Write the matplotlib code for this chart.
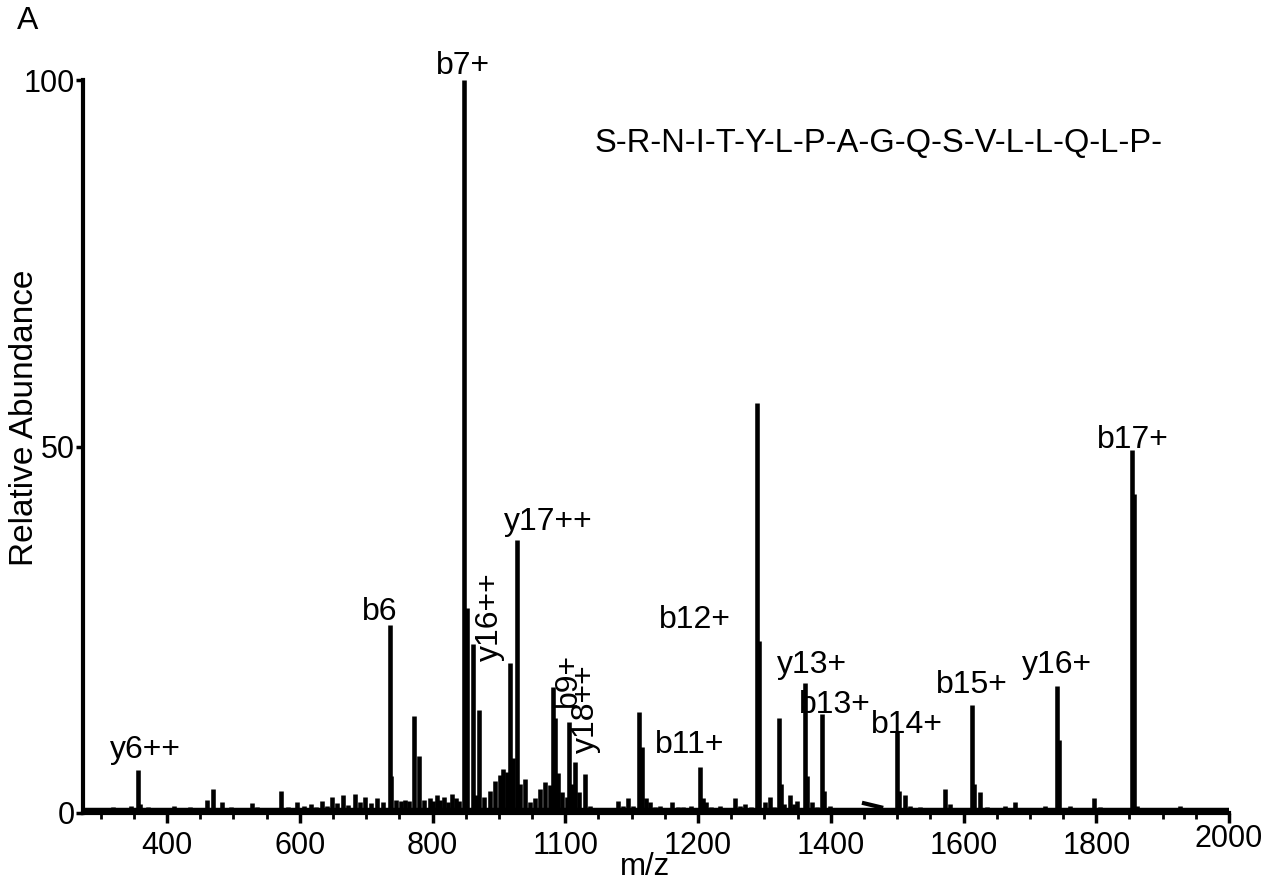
import matplotlib
matplotlib.use("Agg")
import matplotlib.pyplot as plt
from matplotlib.transforms import ScaledTranslation

plt.rcParams['font.family'] = ['Liberation Sans', 'DejaVu Sans']

# ---------------- data ----------------
peak_mz = [300, 318, 330, 345, 356.3, 360, 372, 385, 400, 410, 422, 435, 448, 460,
           469.3, 482.9, 497, 510, 528.1, 535, 549.2, 560, 571.8, 583, 595.9, 607, 617,
           625, 633.5, 641, 648.6, 656, 665.2, 673, 683.3, 690, 698.3, 707, 716.4, 725,
           735.4, 737.5, 745, 752, 758.6, 765, 772.2, 779.7, 787, 796.3, 801, 806.8, 812,
           817.4, 823, 829.4, 835.4, 840, 848, 852, 861.1, 866, 870.1, 877.6, 886.7,
           894.2, 901.7, 906.3, 912.3, 916.8, 921.3, 927.3, 931.9, 939.4, 946.9, 955,
           962, 969.5, 977.1, 981.6, 984.6, 989.1, 995.1, 1002.7, 1005.7, 1010.2,
           1014.7, 1020.8, 1029.8, 1037.3, 1052.4, 1065, 1079.5, 1087, 1094.6, 1102,
           1111.2, 1115.7, 1121.7, 1127.7, 1135, 1142.8, 1150, 1160.9, 1170, 1177.5,
           1190, 1203.1, 1207, 1212.1, 1220, 1233.2, 1245, 1255.8, 1263, 1270.9, 1280,
           1288.7, 1291.9, 1301, 1308.5, 1315, 1322.1, 1325, 1330, 1338.7, 1344,
           1349.2, 1361.3, 1364, 1371.8, 1380, 1386.9, 1390, 1399, 1410, 1425, 1440,
           1460, 1490, 1499.9, 1503, 1511.9, 1519.5, 1534.5, 1550, 1565, 1572.2,
           1579.7, 1590, 1600, 1612.9, 1616, 1624.9, 1635, 1650, 1662.6, 1677.7, 1690,
           1705, 1722.9, 1730, 1741, 1744, 1760.6, 1775, 1783.1, 1796.7, 1805, 1820,
           1835, 1845, 1853.9, 1856.9, 1862, 1875, 1890, 1910, 1926.3, 1945, 1970, 1990]
peak_int = [0.6, 0.8, 0.5, 1.0, 5.9, 1.2, 0.8, 0.7, 0.6, 0.9, 0.7, 0.8, 0.6, 1.8,
            3.3, 1.5, 0.8, 0.7, 1.4, 0.8, 0.7, 0.6, 3.0, 0.8, 1.5, 0.9, 1.2,
            0.8, 1.7, 0.9, 2.2, 1.3, 2.4, 1.1, 2.6, 1.5, 2.2, 1.4, 2.0, 1.5,
            25.6, 5.0, 1.8, 1.6, 1.8, 1.6, 13.2, 7.8, 1.8, 2.0, 1.6, 2.4, 1.8,
            2.2, 1.5, 2.6, 2.0, 1.6, 100, 28, 23, 2.5, 14, 2.2, 3.0,
            4.4, 5.2, 6.0, 5.6, 20.5, 7.5, 37.2, 4.0, 4.6, 1.5, 2.0,
            3.3, 4.2, 3.8, 17.2, 13, 5.5, 2.8, 2.2, 12.4, 4.0,
            7.0, 2.8, 5.3, 1.0, 0.6, 0.6, 1.6, 0.9, 2.0, 1.0,
            13.8, 9.0, 2.0, 1.5, 0.8, 1.0, 0.7, 1.5, 0.8, 0.8,
            1.0, 6.3, 2.0, 1.5, 0.8, 1.0, 0.7, 2.0, 1.0, 1.2, 0.8,
            56, 23.5, 1.5, 2.2, 0.8, 13, 4, 1.2, 2.5, 1.2,
            1.6, 17.7, 5, 1.5, 0.8, 13.5, 3, 1.0, 0.6, 0.5, 0.4,
            0.4, 0.6, 11, 3, 2.5, 1.0, 0.8, 0.5, 0.7, 3.3,
            1.2, 0.6, 0.5, 14.7, 4, 2.8, 0.8, 0.5, 0.9, 1.5, 0.5,
            0.4, 1.0, 0.6, 17.3, 10, 1.0, 0.5, 0.6, 2.0, 0.8, 0.5,
            0.5, 0.6, 49.5, 43.5, 1.0, 0.5, 0.4, 0.4, 0.9, 0.4, 0.4, 0.4]

noise_level = 0.5
artifact_mz = [1447, 1479]
artifact_int = [1.4, 0.7]

ion_labels = ["y6++", "b6", "b7+", "y17++", "y16++", "b9+", "y18++", "b11+",
              "b12+", "y13+", "b13+", "b14+", "b15+", "y16+", "b17+"]

sequence = "S-R-N-I-T-Y-L-P-A-G-Q-S-V-L-L-Q-L-P-"

x_ticks = [400, 600, 800, 1000, 1200, 1400, 1600, 1800, 2000]
x_ticklabels = ["400", "600", "800", "1100", "1200", "1400", "1600", "1800", "2000"]
y_ticks = [0, 50, 100]

# ---------------- layout ----------------
W, H = 1275, 886
fig = plt.figure(figsize=(W / 100, H / 100), dpi=100)
ax_l, ax_r, ax_b, ax_t = 83, 1229, 813, 80
ax = fig.add_axes([ax_l / W, 1 - ax_b / H, (ax_r - ax_l) / W, (ax_b - ax_t) / H])
XMIN, XMAX = 273.4, 2000
ax.set_xlim(XMIN, XMAX)
ax.set_ylim(0, 100)

ax.vlines(peak_mz, 0, peak_int, colors='black', linewidth=3.3, capstyle='butt')
ax.plot([XMIN, XMAX], [noise_level, noise_level], color='black', lw=2.5,
        solid_capstyle='butt')
ax.plot(artifact_mz, artifact_int, color='black', lw=3, solid_capstyle='butt')

for s in ['top', 'right']:
    ax.spines[s].set_visible(False)
for s in ['left', 'bottom']:
    ax.spines[s].set_linewidth(3.0)

ax.set_xticks(x_ticks)
ax.set_xticklabels(x_ticklabels)
ax.set_xticks(list(range(300, 2001, 50)), minor=True)
ax.set_yticks(y_ticks)
ax.tick_params(axis='x', which='major', length=7, width=2.5, labelsize=22, pad=6)
ax.tick_params(axis='x', which='minor', length=4, width=2.0)
ax.tick_params(axis='y', which='major', length=5, width=2.5, labelsize=22, pad=1)

# raise the last tick label slightly, as in the reference
lab = ax.get_xticklabels()[-1]
lab.set_transform(lab.get_transform() + ScaledTranslation(0, 7 / 100, fig.dpi_scale_trans))


def fx(px):
    return px / W


def fy(py):
    return 1 - py / H


label_pos = {
    "y6++": (145, 750, 0), "b6": (380, 612, 0), "b7+": (463, 66, 0),
    "y17++": (548, 522, 0), "y16++": (490, 617, 90), "b9+": (568, 680, 90),
    "y18++": (586, 709, 90), "b11+": (690, 745, 0), "b12+": (695, 620, 0),
    "y13+": (812, 665, 0), "b13+": (835, 705, 0), "b14+": (907, 725, 0),
    "b15+": (972, 685, 0), "y16+": (1057, 665, 0), "b17+": (1133, 440, 0),
}
for name in ion_labels:
    px, py, rot = label_pos[name]
    fig.text(fx(px), fy(py), name, fontsize=23, rotation=rot,
             ha='center', va='center')

fig.text(fx(879), fy(143), sequence, fontsize=23.5, ha='center', va='center')
fig.text(fx(645), fy(867), "m/z", fontsize=22.5, ha='center', va='center')
fig.text(fx(25), fy(418), "Relative Abundance", fontsize=24, rotation=90,
         ha='center', va='center')
fig.text(fx(28), fy(21), "A", fontsize=23, ha='center', va='center')

fig.savefig("out.png", dpi=100)
